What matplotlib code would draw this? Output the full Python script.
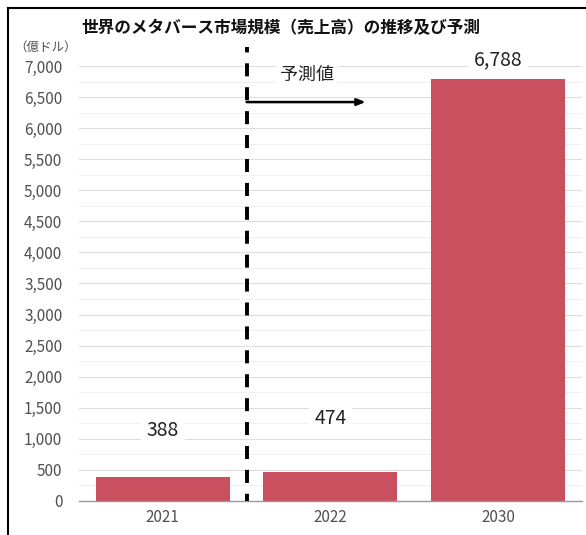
import matplotlib
matplotlib.use("Agg")
import matplotlib.pyplot as plt
from matplotlib.lines import Line2D
from matplotlib.ticker import MultipleLocator, FuncFormatter

plt.rcParams['font.family'] = ['Noto Sans CJK JP', 'DejaVu Sans']

# data
years = ['2021', '2022', '2030']
sales = [388, 474, 6788]
title = '世界のメタバース市場規模（売上高）の推移及び予測'
unit = '（億ドル）'
forecast_label = '予測値'

barColor = '#C8505F'
textColor = '#505050'

fig = plt.figure(figsize=(5.86, 5.35), dpi=100)
ax = fig.add_axes([0.1348, 0.0636, 0.993 - 0.1348, 0.8766 - 0.0636])

x = list(range(len(years)))
ax.bar(x, sales, width=0.8, color=barColor, zorder=3)

ax.set_xlim(-0.5, 2.5)
ax.set_ylim(0, 7000)
ax.yaxis.set_major_locator(MultipleLocator(500))
ax.yaxis.set_minor_locator(MultipleLocator(250))
ax.yaxis.set_major_formatter(FuncFormatter(lambda v, p: f'{int(v):,}'))
ax.grid(axis='y', which='major', color='#dedede', linewidth=0.8, zorder=0)
ax.grid(axis='y', which='minor', color='#f0f0f0', linewidth=0.8, zorder=0)
ax.set_xticks(x)
ax.set_xticklabels(years)
ax.tick_params(axis='both', which='both', length=0, labelsize=11, colors=textColor)
ax.tick_params(axis='y', pad=12)
ax.tick_params(axis='x', pad=6)
for s in ['top', 'right', 'left']:
    ax.spines[s].set_visible(False)
ax.spines['bottom'].set_color('#999999')
ax.spines['bottom'].set_linewidth(1.0)
ax.spines['bottom'].set_zorder(4)

# value labels
labelY = [1130, 1320, 7100]
for xi, v, ly in zip(x, sales, labelY):
    ax.text(xi, ly, f'{v:,}', ha='center', va='center', fontsize=14,
            color='#222222', zorder=5,
            bbox=dict(facecolor='white', edgecolor='none', pad=4))

# forecast divider and arrow
ax.plot([0.5, 0.5], [0, 7310], color='black', linewidth=2.8,
        linestyle=(1.5, (3.35, 2.8)), clip_on=False, zorder=6)
ax.annotate('', xy=(1.21, 6420), xytext=(0.5, 6420),
            arrowprops=dict(arrowstyle='-|>,head_length=0.5,head_width=0.2',
                            color='black', lw=1.8, shrinkA=0, shrinkB=0), zorder=6)
ax.text(0.86, 6850, forecast_label, ha='center', va='center', fontsize=13,
        color='#222222', zorder=5,
        bbox=dict(facecolor='white', edgecolor='none', pad=3))

fig.text(0.479, 0.9467, title, ha='center', va='center', fontsize=12,
         fontweight='bold', color='#111111')
fig.text(0.024, 0.912, unit, ha='left', va='center', fontsize=9, color=textColor)

# frame lines (left and top only)
fig.add_artist(Line2D([8 / 586, 8 / 586], [0, 1 - 8 / 535], color='black', linewidth=1.5))
fig.add_artist(Line2D([8 / 586, 1], [1 - 8 / 535, 1 - 8 / 535], color='black', linewidth=1.5))

fig.savefig('out.png', dpi=100)
